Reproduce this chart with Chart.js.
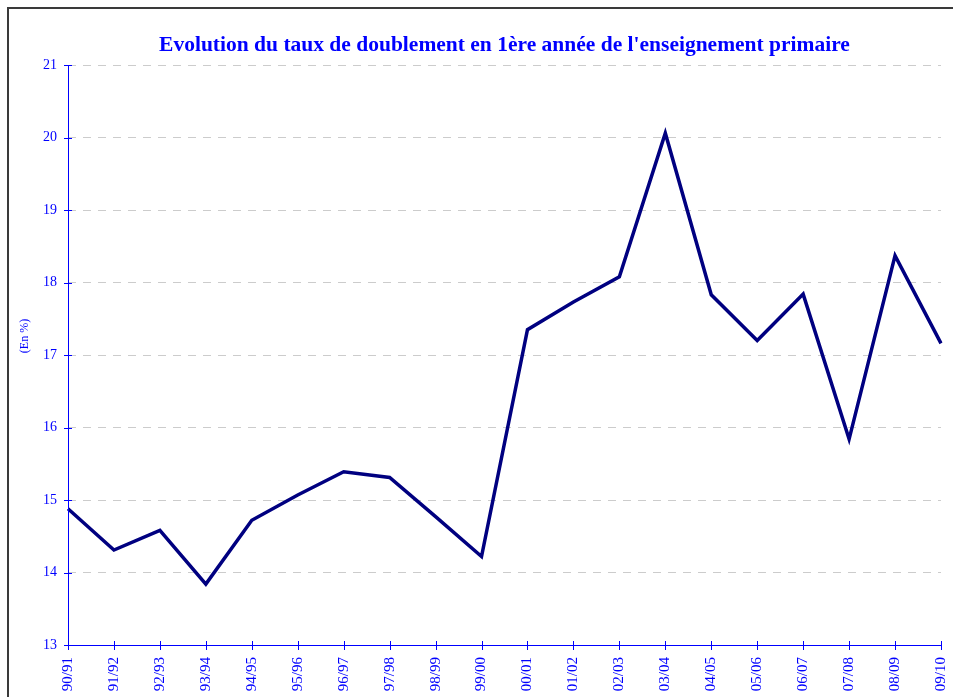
<!DOCTYPE html>
<html>
<head>
<meta charset="utf-8">
<script src="https://cdn.jsdelivr.net/npm/chart.js@4/dist/chart.umd.min.js"></script>
<style>
  html, body { margin: 0; padding: 0; background: #ffffff; }
  #wrap { width: 953px; height: 697px; position: relative; overflow: hidden; }
  canvas { display: block; }
</style>
</head>
<body>
<div id="wrap"><canvas id="chart" width="953" height="697"></canvas></div>
<script>
// School years
const years = ['90/91', '91/92', '92/93', '93/94', '94/95', '95/96', '96/97', '97/98', '98/99', '99/00',
               '00/01', '01/02', '02/03', '03/04', '04/05', '05/06', '06/07', '07/08', '08/09', '09/10'];
// Repetition rate in the first year of primary school (%)
const repetitionRate = [14.88, 14.31, 14.58, 13.84, 14.72, 15.07, 15.39, 15.31, 14.77, 14.22,
                        17.35, 17.73, 18.08, 20.06, 17.83, 17.20, 17.84, 15.84, 18.37, 17.16];
const yTicks = [13, 14, 15, 16, 17, 18, 19, 20, 21];

const titleText = "Evolution du taux de doublement en 1ère année de l'enseignement primaire";
const axisTitle = '(En %)';

const BLUE = '#0000ff';
const SERIF = '"Liberation Serif", "Times New Roman", serif';

// Outer frame, centred title, axis caption, solid axes and tick marks crossing them
const decorations = {
  id: 'decorations',
  beforeDraw(chart) {
    const ctx = chart.ctx;
    ctx.save();
    ctx.strokeStyle = '#3a3a3a';
    ctx.lineWidth = 2;
    ctx.beginPath();
    ctx.moveTo(8, 697);
    ctx.lineTo(8, 8);
    ctx.lineTo(953, 8);
    ctx.stroke();
    ctx.restore();
  },
  afterDraw(chart) {
    const ctx = chart.ctx;
    const area = chart.chartArea;
    const x = chart.scales.x, y = chart.scales.y;
    ctx.save();
    ctx.fillStyle = BLUE;
    ctx.font = 'bold 21.5px ' + SERIF;
    ctx.textAlign = 'center';
    ctx.textBaseline = 'middle';
    ctx.fillText(titleText, (area.left + area.right) / 2, 45);

    ctx.font = '12px ' + SERIF;
    ctx.translate(25, 336);
    ctx.rotate(-Math.PI / 2);
    ctx.fillText(axisTitle, 0, 0);
    ctx.restore();

    ctx.save();
    ctx.strokeStyle = BLUE;
    ctx.lineWidth = 1;
    ctx.setLineDash([]);
    ctx.beginPath();
    const ax = Math.round(area.left) + 0.5;
    ctx.moveTo(ax, area.top);
    ctx.lineTo(ax, area.bottom);
    y.ticks.forEach((t, i) => {
      const py = Math.round(y.getPixelForTick(i)) + 0.5;
      ctx.moveTo(area.left - 4, py);
      ctx.lineTo(area.left + 4, py);
    });
    x.ticks.forEach((t, i) => {
      const px = Math.round(x.getPixelForTick(i)) + 0.5;
      ctx.moveTo(px, area.bottom - 4);
      ctx.lineTo(px, area.bottom + 5);
    });
    ctx.stroke();
    ctx.restore();
  }
};

new Chart(document.getElementById('chart'), {
  type: 'line',
  data: {
    labels: years,
    datasets: [{
      data: repetitionRate,
      borderColor: '#000080',
      borderWidth: 3.5,
      borderJoinStyle: 'miter',
      pointRadius: 0,
      tension: 0,
      fill: false
    }]
  },
  options: {
    responsive: false,
    animation: false,
    devicePixelRatio: 1,
    layout: { padding: { top: 65, right: 12, left: 0, bottom: 0 } },
    plugins: {
      legend: { display: false },
      title: { display: false },
      tooltip: { enabled: false }
    },
    scales: {
      x: {
        type: 'category',
        offset: false,
        afterFit(scale) {
          scale.height = 52;
          scale.paddingLeft = 0;
          scale.paddingRight = 0;
        },
        grid: { display: true, drawOnChartArea: false, drawTicks: false },
        border: { display: true, color: BLUE, width: 1 },
        ticks: {
          color: BLUE,
          font: { family: SERIF, size: 15 },
          minRotation: 90,
          maxRotation: 90,
          autoSkip: false,
          padding: 12
        }
      },
      y: {
        min: 13,
        max: 21,
        afterFit(scale) {
          scale.width = 68;
          scale.paddingTop = 0;
          scale.paddingBottom = 0;
        },
        afterBuildTicks(scale) { scale.ticks = yTicks.map(v => ({ value: v })); },
        grid: {
          color: '#cccccc',
          lineWidth: 1,
          drawTicks: false
        },
        // dashed horizontal grid lines
        border: { display: false, dash: [8, 7] },
        ticks: {
          color: BLUE,
          font: { family: SERIF, size: 14 },
          padding: 11
        }
      }
    }
  },
  plugins: [decorations]
});
</script>
</body>
</html>
